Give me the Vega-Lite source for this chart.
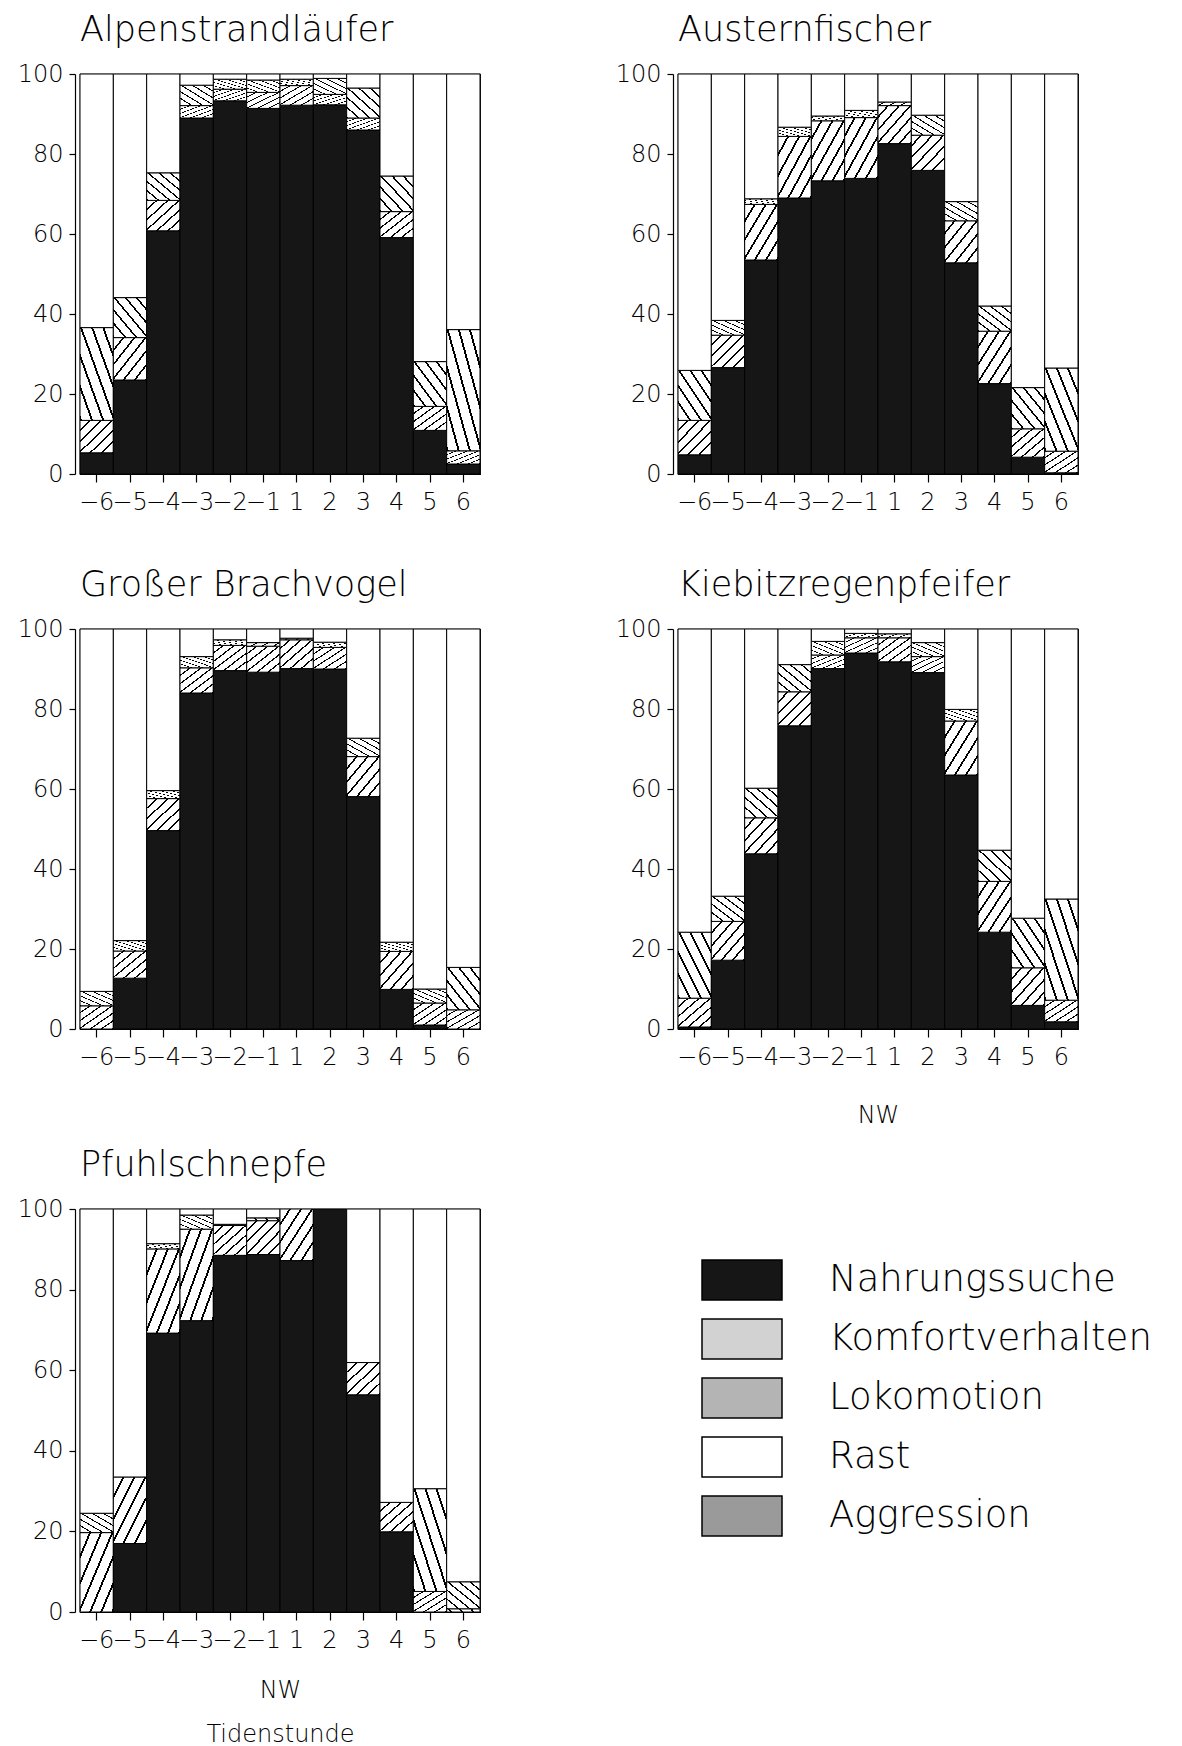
{
  "$schema": "https://vega.github.io/schema/vega-lite/v6.json",
  "padding": {"left": 16, "top": 12, "right": 5, "bottom": 5},
  "datasets": {
    "alpen": [
      {"h": "-6", "Nahrungssuche": 5.3, "Komfortverhalten": 8.1, "Lokomotion": 23.2, "Rast": 63.4},
      {"h": "-5", "Nahrungssuche": 23.5, "Komfortverhalten": 10.6, "Lokomotion": 10.0, "Rast": 55.9},
      {"h": "-4", "Nahrungssuche": 60.8, "Komfortverhalten": 7.6, "Lokomotion": 6.9, "Rast": 24.7},
      {"h": "-3", "Nahrungssuche": 89.0, "Komfortverhalten": 3.1, "Lokomotion": 5.1, "Rast": 2.8},
      {"h": "-2", "Nahrungssuche": 93.3, "Komfortverhalten": 2.9, "Lokomotion": 2.5, "Rast": 1.3},
      {"h": "-1", "Nahrungssuche": 91.4, "Komfortverhalten": 4.0, "Lokomotion": 3.1, "Rast": 1.5},
      {"h": "1", "Nahrungssuche": 92.2, "Komfortverhalten": 4.9, "Lokomotion": 1.6, "Rast": 1.3},
      {"h": "2", "Nahrungssuche": 92.3, "Komfortverhalten": 2.6, "Lokomotion": 4.0, "Rast": 1.1},
      {"h": "3", "Nahrungssuche": 86.0, "Komfortverhalten": 3.0, "Lokomotion": 7.5, "Rast": 3.5},
      {"h": "4", "Nahrungssuche": 59.1, "Komfortverhalten": 6.5, "Lokomotion": 8.9, "Rast": 25.5},
      {"h": "5", "Nahrungssuche": 10.9, "Komfortverhalten": 6.0, "Lokomotion": 11.2, "Rast": 71.9},
      {"h": "6", "Nahrungssuche": 2.5, "Komfortverhalten": 3.3, "Lokomotion": 30.3, "Rast": 63.9}
    ],
    "auster": [
      {"h": "-6", "Nahrungssuche": 4.8, "Komfortverhalten": 8.6, "Lokomotion": 12.5, "Rast": 74.1},
      {"h": "-5", "Nahrungssuche": 26.6, "Komfortverhalten": 8.1, "Lokomotion": 3.7, "Rast": 61.6},
      {"h": "-4", "Nahrungssuche": 53.5, "Komfortverhalten": 13.9, "Lokomotion": 1.4, "Rast": 31.2},
      {"h": "-3", "Nahrungssuche": 69.0, "Komfortverhalten": 15.4, "Lokomotion": 2.3, "Rast": 13.3},
      {"h": "-2", "Nahrungssuche": 73.3, "Komfortverhalten": 15.0, "Lokomotion": 1.2, "Rast": 10.5},
      {"h": "-1", "Nahrungssuche": 73.9, "Komfortverhalten": 15.2, "Lokomotion": 1.8, "Rast": 9.1},
      {"h": "1", "Nahrungssuche": 82.6, "Komfortverhalten": 9.5, "Lokomotion": 0.9, "Rast": 7.0},
      {"h": "2", "Nahrungssuche": 75.9, "Komfortverhalten": 8.8, "Lokomotion": 5.0, "Rast": 10.3},
      {"h": "3", "Nahrungssuche": 52.8, "Komfortverhalten": 10.5, "Lokomotion": 4.8, "Rast": 31.9},
      {"h": "4", "Nahrungssuche": 22.6, "Komfortverhalten": 13.1, "Lokomotion": 6.3, "Rast": 58.0},
      {"h": "5", "Nahrungssuche": 4.2, "Komfortverhalten": 7.1, "Lokomotion": 10.3, "Rast": 78.4},
      {"h": "6", "Nahrungssuche": 0.3, "Komfortverhalten": 5.4, "Lokomotion": 20.8, "Rast": 73.5}
    ],
    "brach": [
      {"h": "-6", "Nahrungssuche": 0, "Komfortverhalten": 5.8, "Lokomotion": 3.6, "Rast": 90.6},
      {"h": "-5", "Nahrungssuche": 12.7, "Komfortverhalten": 6.8, "Lokomotion": 2.6, "Rast": 77.9},
      {"h": "-4", "Nahrungssuche": 49.6, "Komfortverhalten": 8.0, "Lokomotion": 2.0, "Rast": 40.4},
      {"h": "-3", "Nahrungssuche": 84.0, "Komfortverhalten": 6.3, "Lokomotion": 2.8, "Rast": 6.9},
      {"h": "-2", "Nahrungssuche": 89.6, "Komfortverhalten": 6.3, "Lokomotion": 1.4, "Rast": 2.7},
      {"h": "-1", "Nahrungssuche": 89.2, "Komfortverhalten": 6.5, "Lokomotion": 0.9, "Rast": 3.4},
      {"h": "1", "Nahrungssuche": 90.1, "Komfortverhalten": 7.2, "Lokomotion": 0.4, "Rast": 2.3},
      {"h": "2", "Nahrungssuche": 90.0, "Komfortverhalten": 5.4, "Lokomotion": 1.3, "Rast": 3.3},
      {"h": "3", "Nahrungssuche": 58.1, "Komfortverhalten": 10.0, "Lokomotion": 4.6, "Rast": 27.3},
      {"h": "4", "Nahrungssuche": 9.9, "Komfortverhalten": 9.5, "Lokomotion": 2.3, "Rast": 78.3},
      {"h": "5", "Nahrungssuche": 1.0, "Komfortverhalten": 5.5, "Lokomotion": 3.5, "Rast": 90.0},
      {"h": "6", "Nahrungssuche": 0, "Komfortverhalten": 4.8, "Lokomotion": 10.6, "Rast": 84.6}
    ],
    "kiebitz": [
      {"h": "-6", "Nahrungssuche": 0.5, "Komfortverhalten": 7.2, "Lokomotion": 16.5, "Rast": 75.8},
      {"h": "-5", "Nahrungssuche": 17.2, "Komfortverhalten": 9.7, "Lokomotion": 6.3, "Rast": 66.8},
      {"h": "-4", "Nahrungssuche": 43.8, "Komfortverhalten": 9.0, "Lokomotion": 7.4, "Rast": 39.8},
      {"h": "-3", "Nahrungssuche": 75.8, "Komfortverhalten": 8.5, "Lokomotion": 6.8, "Rast": 8.9},
      {"h": "-2", "Nahrungssuche": 90.1, "Komfortverhalten": 3.4, "Lokomotion": 3.4, "Rast": 3.1},
      {"h": "-1", "Nahrungssuche": 94.0, "Komfortverhalten": 3.8, "Lokomotion": 1.1, "Rast": 1.1},
      {"h": "1", "Nahrungssuche": 91.8, "Komfortverhalten": 6.0, "Lokomotion": 1.0, "Rast": 1.2},
      {"h": "2", "Nahrungssuche": 89.1, "Komfortverhalten": 4.0, "Lokomotion": 3.5, "Rast": 3.4},
      {"h": "3", "Nahrungssuche": 63.5, "Komfortverhalten": 13.5, "Lokomotion": 2.9, "Rast": 20.1},
      {"h": "4", "Nahrungssuche": 24.2, "Komfortverhalten": 12.7, "Lokomotion": 7.8, "Rast": 55.3},
      {"h": "5", "Nahrungssuche": 5.9, "Komfortverhalten": 9.4, "Lokomotion": 12.4, "Rast": 72.3},
      {"h": "6", "Nahrungssuche": 1.8, "Komfortverhalten": 5.4, "Lokomotion": 25.3, "Rast": 67.5}
    ],
    "pfuhl": [
      {"h": "-6", "Nahrungssuche": 0, "Komfortverhalten": 19.7, "Lokomotion": 4.8, "Rast": 75.5},
      {"h": "-5", "Nahrungssuche": 17.0, "Komfortverhalten": 16.5, "Lokomotion": 0, "Rast": 66.5},
      {"h": "-4", "Nahrungssuche": 69.2, "Komfortverhalten": 20.9, "Lokomotion": 1.3, "Rast": 8.6},
      {"h": "-3", "Nahrungssuche": 72.3, "Komfortverhalten": 22.7, "Lokomotion": 3.5, "Rast": 1.5},
      {"h": "-2", "Nahrungssuche": 88.5, "Komfortverhalten": 7.4, "Lokomotion": 0.3, "Rast": 3.8},
      {"h": "-1", "Nahrungssuche": 88.7, "Komfortverhalten": 8.4, "Lokomotion": 0.7, "Rast": 2.2},
      {"h": "1", "Nahrungssuche": 87.2, "Komfortverhalten": 12.8, "Lokomotion": 0, "Rast": 0},
      {"h": "2", "Nahrungssuche": 100, "Komfortverhalten": 0, "Lokomotion": 0, "Rast": 0},
      {"h": "3", "Nahrungssuche": 53.9, "Komfortverhalten": 8.0, "Lokomotion": 0, "Rast": 38.1},
      {"h": "4", "Nahrungssuche": 19.9, "Komfortverhalten": 7.3, "Lokomotion": 0, "Rast": 72.8},
      {"h": "5", "Nahrungssuche": 0, "Komfortverhalten": 5.1, "Lokomotion": 25.5, "Rast": 69.4},
      {"h": "6", "Nahrungssuche": 0, "Komfortverhalten": 0.8, "Lokomotion": 6.7, "Rast": 92.5}
    ]
  },
  "vconcat": [
    {
      "vconcat": [
        {
          "hconcat": [
            {
              "width": 400, "height": 400,
              "data": {"name": "alpen"},
              "title": {"text": "Alpenstrandläufer"},
              "transform": [
                {"fold": ["Nahrungssuche", "Komfortverhalten", "Lokomotion", "Rast"], "as": ["cat", "v"]},
                {"filter": "datum.v > 0"},
                {"calculate": "indexof(['Nahrungssuche','Komfortverhalten','Lokomotion','Rast','Aggression'], datum.cat)", "as": "o"}
              ],
              "mark": {"type": "bar", "stroke": "black", "strokeWidth": 1},
              "encoding": {
                "x": {"field": "h", "type": "nominal", "scale": {"domain": ["-6","-5","-4","-3","-2","-1","1","2","3","4","5","6"], "paddingInner": 0, "paddingOuter": 0}, "axis": {"title": null}},
                "y": {"field": "v", "type": "quantitative", "stack": "zero", "scale": {"domain": [0, 100], "nice": false}, "axis": {"title": null, "values": [0, 20, 40, 60, 80, 100]}},
                "color": {"field": "cat", "type": "nominal",
                  "scale": {"domain": ["Nahrungssuche", "Komfortverhalten", "Lokomotion", "Rast", "Aggression"], "range": ["#161616", "#d2d2d2", "#b4b4b4", "#ffffff", "#9a9a9a"]},
                  "condition": [
                    {"test": "datum.cat === 'Komfortverhalten'", "value": {"gradient": "linear", "x1": 0, "y1": 0, "x2": 1, "y2": 1, "stops": [{"offset": 0, "color": "white"}, {"offset": 0.1367, "color": "white"}, {"offset": 0.1367, "color": "black"}, {"offset": 0.1667, "color": "black"}, {"offset": 0.1667, "color": "white"}, {"offset": 0.3033, "color": "white"}, {"offset": 0.3033, "color": "black"}, {"offset": 0.3333, "color": "black"}, {"offset": 0.3333, "color": "white"}, {"offset": 0.47, "color": "white"}, {"offset": 0.47, "color": "black"}, {"offset": 0.5, "color": "black"}, {"offset": 0.5, "color": "white"}, {"offset": 0.6367, "color": "white"}, {"offset": 0.6367, "color": "black"}, {"offset": 0.6667, "color": "black"}, {"offset": 0.6667, "color": "white"}, {"offset": 0.8033, "color": "white"}, {"offset": 0.8033, "color": "black"}, {"offset": 0.8333, "color": "black"}, {"offset": 0.8333, "color": "white"}, {"offset": 0.97, "color": "white"}, {"offset": 0.97, "color": "black"}, {"offset": 1, "color": "black"}]}},
                    {"test": "datum.cat === 'Lokomotion'", "value": {"gradient": "linear", "x1": 1, "y1": 0, "x2": 0, "y2": 1, "stops": [{"offset": 0, "color": "white"}, {"offset": 0.1367, "color": "white"}, {"offset": 0.1367, "color": "black"}, {"offset": 0.1667, "color": "black"}, {"offset": 0.1667, "color": "white"}, {"offset": 0.3033, "color": "white"}, {"offset": 0.3033, "color": "black"}, {"offset": 0.3333, "color": "black"}, {"offset": 0.3333, "color": "white"}, {"offset": 0.47, "color": "white"}, {"offset": 0.47, "color": "black"}, {"offset": 0.5, "color": "black"}, {"offset": 0.5, "color": "white"}, {"offset": 0.6367, "color": "white"}, {"offset": 0.6367, "color": "black"}, {"offset": 0.6667, "color": "black"}, {"offset": 0.6667, "color": "white"}, {"offset": 0.8033, "color": "white"}, {"offset": 0.8033, "color": "black"}, {"offset": 0.8333, "color": "black"}, {"offset": 0.8333, "color": "white"}, {"offset": 0.97, "color": "white"}, {"offset": 0.97, "color": "black"}, {"offset": 1, "color": "black"}]}}
                  ],
                  "legend": {"title": null}},
                "order": {"field": "o", "type": "quantitative"}
              }
            },
            {
              "width": 400, "height": 400,
              "data": {"name": "auster"},
              "title": {"text": "Austernfischer"},
              "transform": [
                {"fold": ["Nahrungssuche", "Komfortverhalten", "Lokomotion", "Rast"], "as": ["cat", "v"]},
                {"filter": "datum.v > 0"},
                {"calculate": "indexof(['Nahrungssuche','Komfortverhalten','Lokomotion','Rast','Aggression'], datum.cat)", "as": "o"}
              ],
              "mark": {"type": "bar", "stroke": "black", "strokeWidth": 1},
              "encoding": {
                "x": {"field": "h", "type": "nominal", "scale": {"domain": ["-6","-5","-4","-3","-2","-1","1","2","3","4","5","6"], "paddingInner": 0, "paddingOuter": 0}, "axis": {"title": null}},
                "y": {"field": "v", "type": "quantitative", "stack": "zero", "scale": {"domain": [0, 100], "nice": false}, "axis": {"title": null, "values": [0, 20, 40, 60, 80, 100]}},
                "color": {"field": "cat", "type": "nominal",
                  "condition": [
                    {"test": "datum.cat === 'Komfortverhalten'", "value": {"gradient": "linear", "x1": 0, "y1": 0, "x2": 1, "y2": 1, "stops": [{"offset": 0, "color": "white"}, {"offset": 0.1367, "color": "white"}, {"offset": 0.1367, "color": "black"}, {"offset": 0.1667, "color": "black"}, {"offset": 0.1667, "color": "white"}, {"offset": 0.3033, "color": "white"}, {"offset": 0.3033, "color": "black"}, {"offset": 0.3333, "color": "black"}, {"offset": 0.3333, "color": "white"}, {"offset": 0.47, "color": "white"}, {"offset": 0.47, "color": "black"}, {"offset": 0.5, "color": "black"}, {"offset": 0.5, "color": "white"}, {"offset": 0.6367, "color": "white"}, {"offset": 0.6367, "color": "black"}, {"offset": 0.6667, "color": "black"}, {"offset": 0.6667, "color": "white"}, {"offset": 0.8033, "color": "white"}, {"offset": 0.8033, "color": "black"}, {"offset": 0.8333, "color": "black"}, {"offset": 0.8333, "color": "white"}, {"offset": 0.97, "color": "white"}, {"offset": 0.97, "color": "black"}, {"offset": 1, "color": "black"}]}},
                    {"test": "datum.cat === 'Lokomotion'", "value": {"gradient": "linear", "x1": 1, "y1": 0, "x2": 0, "y2": 1, "stops": [{"offset": 0, "color": "white"}, {"offset": 0.1367, "color": "white"}, {"offset": 0.1367, "color": "black"}, {"offset": 0.1667, "color": "black"}, {"offset": 0.1667, "color": "white"}, {"offset": 0.3033, "color": "white"}, {"offset": 0.3033, "color": "black"}, {"offset": 0.3333, "color": "black"}, {"offset": 0.3333, "color": "white"}, {"offset": 0.47, "color": "white"}, {"offset": 0.47, "color": "black"}, {"offset": 0.5, "color": "black"}, {"offset": 0.5, "color": "white"}, {"offset": 0.6367, "color": "white"}, {"offset": 0.6367, "color": "black"}, {"offset": 0.6667, "color": "black"}, {"offset": 0.6667, "color": "white"}, {"offset": 0.8033, "color": "white"}, {"offset": 0.8033, "color": "black"}, {"offset": 0.8333, "color": "black"}, {"offset": 0.8333, "color": "white"}, {"offset": 0.97, "color": "white"}, {"offset": 0.97, "color": "black"}, {"offset": 1, "color": "black"}]}}
                  ],
                  "legend": {"title": null}},
                "order": {"field": "o", "type": "quantitative"}
              }
            }
          ],
          "spacing": 132
        },
        {
          "hconcat": [
            {
              "width": 400, "height": 400,
              "data": {"name": "brach"},
              "title": {"text": "Großer Brachvogel"},
              "transform": [
                {"fold": ["Nahrungssuche", "Komfortverhalten", "Lokomotion", "Rast"], "as": ["cat", "v"]},
                {"filter": "datum.v > 0"},
                {"calculate": "indexof(['Nahrungssuche','Komfortverhalten','Lokomotion','Rast','Aggression'], datum.cat)", "as": "o"}
              ],
              "mark": {"type": "bar", "stroke": "black", "strokeWidth": 1},
              "encoding": {
                "x": {"field": "h", "type": "nominal", "scale": {"domain": ["-6","-5","-4","-3","-2","-1","1","2","3","4","5","6"], "paddingInner": 0, "paddingOuter": 0}, "axis": {"title": null}},
                "y": {"field": "v", "type": "quantitative", "stack": "zero", "scale": {"domain": [0, 100], "nice": false}, "axis": {"title": null, "values": [0, 20, 40, 60, 80, 100]}},
                "color": {"field": "cat", "type": "nominal",
                  "condition": [
                    {"test": "datum.cat === 'Komfortverhalten'", "value": {"gradient": "linear", "x1": 0, "y1": 0, "x2": 1, "y2": 1, "stops": [{"offset": 0, "color": "white"}, {"offset": 0.1367, "color": "white"}, {"offset": 0.1367, "color": "black"}, {"offset": 0.1667, "color": "black"}, {"offset": 0.1667, "color": "white"}, {"offset": 0.3033, "color": "white"}, {"offset": 0.3033, "color": "black"}, {"offset": 0.3333, "color": "black"}, {"offset": 0.3333, "color": "white"}, {"offset": 0.47, "color": "white"}, {"offset": 0.47, "color": "black"}, {"offset": 0.5, "color": "black"}, {"offset": 0.5, "color": "white"}, {"offset": 0.6367, "color": "white"}, {"offset": 0.6367, "color": "black"}, {"offset": 0.6667, "color": "black"}, {"offset": 0.6667, "color": "white"}, {"offset": 0.8033, "color": "white"}, {"offset": 0.8033, "color": "black"}, {"offset": 0.8333, "color": "black"}, {"offset": 0.8333, "color": "white"}, {"offset": 0.97, "color": "white"}, {"offset": 0.97, "color": "black"}, {"offset": 1, "color": "black"}]}},
                    {"test": "datum.cat === 'Lokomotion'", "value": {"gradient": "linear", "x1": 1, "y1": 0, "x2": 0, "y2": 1, "stops": [{"offset": 0, "color": "white"}, {"offset": 0.1367, "color": "white"}, {"offset": 0.1367, "color": "black"}, {"offset": 0.1667, "color": "black"}, {"offset": 0.1667, "color": "white"}, {"offset": 0.3033, "color": "white"}, {"offset": 0.3033, "color": "black"}, {"offset": 0.3333, "color": "black"}, {"offset": 0.3333, "color": "white"}, {"offset": 0.47, "color": "white"}, {"offset": 0.47, "color": "black"}, {"offset": 0.5, "color": "black"}, {"offset": 0.5, "color": "white"}, {"offset": 0.6367, "color": "white"}, {"offset": 0.6367, "color": "black"}, {"offset": 0.6667, "color": "black"}, {"offset": 0.6667, "color": "white"}, {"offset": 0.8033, "color": "white"}, {"offset": 0.8033, "color": "black"}, {"offset": 0.8333, "color": "black"}, {"offset": 0.8333, "color": "white"}, {"offset": 0.97, "color": "white"}, {"offset": 0.97, "color": "black"}, {"offset": 1, "color": "black"}]}}
                  ],
                  "legend": {"title": null}},
                "order": {"field": "o", "type": "quantitative"}
              }
            },
            {
              "width": 400, "height": 400,
              "data": {"name": "kiebitz"},
              "title": {"text": "Kiebitzregenpfeifer"},
              "transform": [
                {"fold": ["Nahrungssuche", "Komfortverhalten", "Lokomotion", "Rast"], "as": ["cat", "v"]},
                {"filter": "datum.v > 0"},
                {"calculate": "indexof(['Nahrungssuche','Komfortverhalten','Lokomotion','Rast','Aggression'], datum.cat)", "as": "o"}
              ],
              "mark": {"type": "bar", "stroke": "black", "strokeWidth": 1},
              "encoding": {
                "x": {"field": "h", "type": "nominal", "scale": {"domain": ["-6","-5","-4","-3","-2","-1","1","2","3","4","5","6"], "paddingInner": 0, "paddingOuter": 0}, "axis": {"title": "NW", "titlePadding": 34}},
                "y": {"field": "v", "type": "quantitative", "stack": "zero", "scale": {"domain": [0, 100], "nice": false}, "axis": {"title": null, "values": [0, 20, 40, 60, 80, 100]}},
                "color": {"field": "cat", "type": "nominal",
                  "condition": [
                    {"test": "datum.cat === 'Komfortverhalten'", "value": {"gradient": "linear", "x1": 0, "y1": 0, "x2": 1, "y2": 1, "stops": [{"offset": 0, "color": "white"}, {"offset": 0.1367, "color": "white"}, {"offset": 0.1367, "color": "black"}, {"offset": 0.1667, "color": "black"}, {"offset": 0.1667, "color": "white"}, {"offset": 0.3033, "color": "white"}, {"offset": 0.3033, "color": "black"}, {"offset": 0.3333, "color": "black"}, {"offset": 0.3333, "color": "white"}, {"offset": 0.47, "color": "white"}, {"offset": 0.47, "color": "black"}, {"offset": 0.5, "color": "black"}, {"offset": 0.5, "color": "white"}, {"offset": 0.6367, "color": "white"}, {"offset": 0.6367, "color": "black"}, {"offset": 0.6667, "color": "black"}, {"offset": 0.6667, "color": "white"}, {"offset": 0.8033, "color": "white"}, {"offset": 0.8033, "color": "black"}, {"offset": 0.8333, "color": "black"}, {"offset": 0.8333, "color": "white"}, {"offset": 0.97, "color": "white"}, {"offset": 0.97, "color": "black"}, {"offset": 1, "color": "black"}]}},
                    {"test": "datum.cat === 'Lokomotion'", "value": {"gradient": "linear", "x1": 1, "y1": 0, "x2": 0, "y2": 1, "stops": [{"offset": 0, "color": "white"}, {"offset": 0.1367, "color": "white"}, {"offset": 0.1367, "color": "black"}, {"offset": 0.1667, "color": "black"}, {"offset": 0.1667, "color": "white"}, {"offset": 0.3033, "color": "white"}, {"offset": 0.3033, "color": "black"}, {"offset": 0.3333, "color": "black"}, {"offset": 0.3333, "color": "white"}, {"offset": 0.47, "color": "white"}, {"offset": 0.47, "color": "black"}, {"offset": 0.5, "color": "black"}, {"offset": 0.5, "color": "white"}, {"offset": 0.6367, "color": "white"}, {"offset": 0.6367, "color": "black"}, {"offset": 0.6667, "color": "black"}, {"offset": 0.6667, "color": "white"}, {"offset": 0.8033, "color": "white"}, {"offset": 0.8033, "color": "black"}, {"offset": 0.8333, "color": "black"}, {"offset": 0.8333, "color": "white"}, {"offset": 0.97, "color": "white"}, {"offset": 0.97, "color": "black"}, {"offset": 1, "color": "black"}]}}
                  ],
                  "legend": {"title": null}},
                "order": {"field": "o", "type": "quantitative"}
              }
            }
          ],
          "spacing": 132
        }
      ],
      "spacing": 52
    },
    {
      "width": 400, "height": 403,
      "data": {"name": "pfuhl"},
      "title": {"text": "Pfuhlschnepfe"},
      "transform": [
        {"fold": ["Nahrungssuche", "Komfortverhalten", "Lokomotion", "Rast"], "as": ["cat", "v"]},
        {"filter": "datum.v > 0"},
        {"calculate": "indexof(['Nahrungssuche','Komfortverhalten','Lokomotion','Rast','Aggression'], datum.cat)", "as": "o"}
      ],
      "mark": {"type": "bar", "stroke": "black", "strokeWidth": 1},
      "encoding": {
        "x": {"field": "h", "type": "nominal", "scale": {"domain": ["-6","-5","-4","-3","-2","-1","1","2","3","4","5","6"], "paddingInner": 0, "paddingOuter": 0}, "axis": {"title": ["NW", "Tidenstunde"], "titlePadding": 26, "titleLineHeight": 44}},
        "y": {"field": "v", "type": "quantitative", "stack": "zero", "scale": {"domain": [0, 100], "nice": false}, "axis": {"title": null, "values": [0, 20, 40, 60, 80, 100]}},
        "color": {"field": "cat", "type": "nominal",
          "condition": [
            {"test": "datum.cat === 'Komfortverhalten'", "value": {"gradient": "linear", "x1": 0, "y1": 0, "x2": 1, "y2": 1, "stops": [{"offset": 0, "color": "white"}, {"offset": 0.1367, "color": "white"}, {"offset": 0.1367, "color": "black"}, {"offset": 0.1667, "color": "black"}, {"offset": 0.1667, "color": "white"}, {"offset": 0.3033, "color": "white"}, {"offset": 0.3033, "color": "black"}, {"offset": 0.3333, "color": "black"}, {"offset": 0.3333, "color": "white"}, {"offset": 0.47, "color": "white"}, {"offset": 0.47, "color": "black"}, {"offset": 0.5, "color": "black"}, {"offset": 0.5, "color": "white"}, {"offset": 0.6367, "color": "white"}, {"offset": 0.6367, "color": "black"}, {"offset": 0.6667, "color": "black"}, {"offset": 0.6667, "color": "white"}, {"offset": 0.8033, "color": "white"}, {"offset": 0.8033, "color": "black"}, {"offset": 0.8333, "color": "black"}, {"offset": 0.8333, "color": "white"}, {"offset": 0.97, "color": "white"}, {"offset": 0.97, "color": "black"}, {"offset": 1, "color": "black"}]}},
            {"test": "datum.cat === 'Lokomotion'", "value": {"gradient": "linear", "x1": 1, "y1": 0, "x2": 0, "y2": 1, "stops": [{"offset": 0, "color": "white"}, {"offset": 0.1367, "color": "white"}, {"offset": 0.1367, "color": "black"}, {"offset": 0.1667, "color": "black"}, {"offset": 0.1667, "color": "white"}, {"offset": 0.3033, "color": "white"}, {"offset": 0.3033, "color": "black"}, {"offset": 0.3333, "color": "black"}, {"offset": 0.3333, "color": "white"}, {"offset": 0.47, "color": "white"}, {"offset": 0.47, "color": "black"}, {"offset": 0.5, "color": "black"}, {"offset": 0.5, "color": "white"}, {"offset": 0.6367, "color": "white"}, {"offset": 0.6367, "color": "black"}, {"offset": 0.6667, "color": "black"}, {"offset": 0.6667, "color": "white"}, {"offset": 0.8033, "color": "white"}, {"offset": 0.8033, "color": "black"}, {"offset": 0.8333, "color": "black"}, {"offset": 0.8333, "color": "white"}, {"offset": 0.97, "color": "white"}, {"offset": 0.97, "color": "black"}, {"offset": 1, "color": "black"}]}}
          ],
          "legend": {"title": null}},
        "order": {"field": "o", "type": "quantitative"}
      }
    }
  ],
  "spacing": 19,
  "config": {
    "font": "DejaVu Sans",
    "view": {"stroke": "black", "strokeWidth": 1.2},
    "axis": {"domainColor": "black", "tickColor": "black", "labelColor": "black", "labelFontSize": 24, "labelFontWeight": 300, "grid": false, "domainWidth": 1.2, "tickWidth": 1.2, "titleFontSize": 24, "titleFontWeight": 300, "titleColor": "black"},
    "axisX": {"labelAngle": 0, "tickSize": 8, "labelPadding": 8, "labelOverlap": false, "labelExpr": "replace(datum.label, '-', '−')"},
    "axisY": {"tickSize": 6, "labelPadding": 6, "offset": 5},
    "title": {"anchor": "start", "frame": "group", "fontSize": 35, "fontWeight": 300, "color": "black", "offset": 14},
    "legend": {
      "orient": "none", "legendX": 641, "legendY": 1185,
      "symbolType": "M-2,-1H2V1H-2Z", "symbolSize": 1600, "symbolStrokeColor": "black", "symbolStrokeWidth": 1.5, "symbolOpacity": 1,
      "labelFontSize": 37, "labelFontWeight": 300, "labelColor": "black", "labelOffset": 66, "rowPadding": 13, "labelLimit": 500
    }
  }
}
